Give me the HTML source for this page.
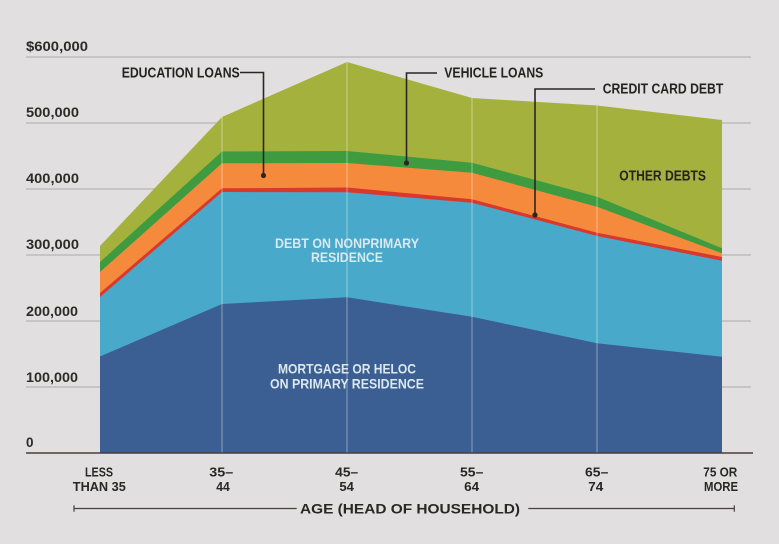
<!DOCTYPE html>
<html>
<head>
<meta charset="utf-8">
<style>
  html, body { margin: 0; padding: 0; background: #e1dfdf; }
  svg { display: block; }
  text { font-family: "Liberation Sans", sans-serif; }
</style>
</head>
<body>
<svg width="779" height="544" viewBox="0 0 779 544" xmlns="http://www.w3.org/2000/svg">
  <rect x="0" y="0" width="779" height="544" fill="#e1dfdf"/>

  <!-- gridlines -->
  <g stroke="#b6b3b3" stroke-width="1.2">
    <line x1="26" y1="57" x2="751" y2="57"/>
    <line x1="26" y1="123" x2="751" y2="123"/>
    <line x1="26" y1="189" x2="751" y2="189"/>
    <line x1="26" y1="255" x2="751" y2="255"/>
    <line x1="26" y1="321" x2="751" y2="321"/>
    <line x1="26" y1="387" x2="751" y2="387"/>
  </g>

  <!-- y labels -->
  <g fill="#2e2a2a" font-size="13.5" font-weight="700">
    <text x="26" y="51" textLength="62" lengthAdjust="spacingAndGlyphs">$600,000</text>
    <text x="26" y="117" textLength="53" lengthAdjust="spacingAndGlyphs">500,000</text>
    <text x="26" y="183" textLength="53" lengthAdjust="spacingAndGlyphs">400,000</text>
    <text x="26" y="249" textLength="53" lengthAdjust="spacingAndGlyphs">300,000</text>
    <text x="26" y="316" textLength="52" lengthAdjust="spacingAndGlyphs">200,000</text>
    <text x="26" y="382" textLength="52" lengthAdjust="spacingAndGlyphs">100,000</text>
    <text x="26" y="447">0</text>
  </g>

  <!-- stacked areas -->
  <polygon fill="#a5b13d" points="100,246 222,117 347,62 472,98 597,105.5 722,120 722,453 100,453"/>
  <polygon fill="#3f9b3f" points="100,262 222,151.5 347,151 472,162.7 597,196.7 722,248.3 722,453 100,453"/>
  <polygon fill="#f68a3c" points="100,272 222,163.3 347,163 472,172.7 597,206.7 722,253.3 722,453 100,453"/>
  <polygon fill="#d9392c" points="100,293 222,188.3 347,187.5 472,199.3 597,232.7 722,257 722,453 100,453"/>
  <polygon fill="#48a9ca" points="100,297 222,192 347,192.3 472,202.7 597,236 722,260.7 722,453 100,453"/>
  <polygon fill="#3b5e93" points="100,356.5 222,304 347,297.3 472,316.7 597,343.3 722,356.7 722,453 100,453"/>

  <!-- vertical separators -->
  <g stroke="#ffffff" stroke-opacity="0.35" stroke-width="1.2">
    <line x1="222" y1="117" x2="222" y2="453"/>
    <line x1="347" y1="62" x2="347" y2="453"/>
    <line x1="472" y1="98" x2="472" y2="453"/>
    <line x1="597" y1="105.5" x2="597" y2="453"/>
  </g>

  <!-- in-chart labels -->
  <g fill="#dbe8ee" font-size="14" font-weight="700" text-anchor="middle">
    <text x="347" y="248" textLength="144" lengthAdjust="spacingAndGlyphs">DEBT ON NONPRIMARY</text>
    <text x="347" y="262" textLength="72" lengthAdjust="spacingAndGlyphs">RESIDENCE</text>
    <text x="347" y="373.6" textLength="138" lengthAdjust="spacingAndGlyphs">MORTGAGE OR HELOC</text>
    <text x="347" y="388.6" textLength="154" lengthAdjust="spacingAndGlyphs">ON PRIMARY RESIDENCE</text>
  </g>

  <!-- legend labels -->
  <g fill="#262222" font-size="14.5" font-weight="700">
    <text x="121.7" y="77.6" textLength="118" lengthAdjust="spacingAndGlyphs">EDUCATION LOANS</text>
    <text x="444.3" y="77.6" textLength="99" lengthAdjust="spacingAndGlyphs">VEHICLE LOANS</text>
    <text x="602.7" y="93.5" textLength="120.6" lengthAdjust="spacingAndGlyphs">CREDIT CARD DEBT</text>
    <text x="619.3" y="180.3" textLength="86.7" lengthAdjust="spacingAndGlyphs">OTHER DEBTS</text>
  </g>

  <!-- leader lines -->
  <g stroke="#2a2626" stroke-width="1.6" fill="none">
    <polyline points="240,72.5 263.5,72.5 263.5,175.5"/>
    <polyline points="437,73 406.5,73 406.5,163"/>
    <polyline points="595,89 535,89 535,215"/>
  </g>
  <g fill="#2a2626">
    <circle cx="263.5" cy="175.5" r="2.6"/>
    <circle cx="406.5" cy="163" r="2.6"/>
    <circle cx="535" cy="215" r="2.6"/>
  </g>

  <!-- x axis -->
  <line x1="26" y1="453" x2="753" y2="453" stroke="#4a3c3c" stroke-width="1.6"/>

  <g fill="#2a2626" font-size="13" font-weight="700" text-anchor="middle">
    <text x="99" y="476.5" textLength="28" lengthAdjust="spacingAndGlyphs">LESS</text>
    <text x="99.3" y="491" textLength="53" lengthAdjust="spacingAndGlyphs">THAN 35</text>
    <text x="221.3" y="476.5" textLength="24" lengthAdjust="spacingAndGlyphs">35–</text>
    <text x="223" y="491" textLength="13.5" lengthAdjust="spacingAndGlyphs">44</text>
    <text x="346.7" y="476.5" textLength="23" lengthAdjust="spacingAndGlyphs">45–</text>
    <text x="346.7" y="491" textLength="14.5" lengthAdjust="spacingAndGlyphs">54</text>
    <text x="471.7" y="476.5" textLength="23.3" lengthAdjust="spacingAndGlyphs">55–</text>
    <text x="471.7" y="491" textLength="15" lengthAdjust="spacingAndGlyphs">64</text>
    <text x="596.7" y="476.5" textLength="23.3" lengthAdjust="spacingAndGlyphs">65–</text>
    <text x="595.8" y="491" textLength="15" lengthAdjust="spacingAndGlyphs">74</text>
    <text x="720.3" y="476.5" textLength="34" lengthAdjust="spacingAndGlyphs">75 OR</text>
    <text x="721" y="491" textLength="34" lengthAdjust="spacingAndGlyphs">MORE</text>
  </g>

  <!-- axis title with bracket -->
  <g stroke="#4a3e3e" stroke-width="1.2">
    <line x1="74" y1="508.5" x2="296.7" y2="508.5"/>
    <line x1="74" y1="505.3" x2="74" y2="511.7"/>
    <line x1="528.3" y1="508.5" x2="734.3" y2="508.5"/>
    <line x1="734.3" y1="505.3" x2="734.3" y2="511.7"/>
  </g>
  <text x="300" y="513.5" fill="#2a2626" font-size="13.5" font-weight="700" textLength="220" lengthAdjust="spacingAndGlyphs">AGE (HEAD OF HOUSEHOLD)</text>
</svg>
</body>
</html>
